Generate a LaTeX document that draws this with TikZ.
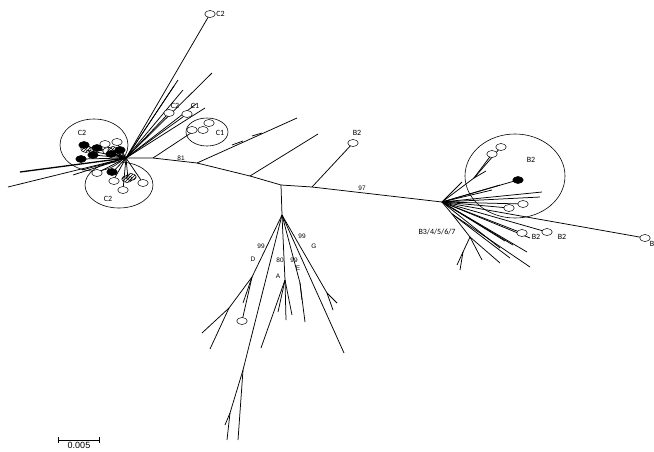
\documentclass[tikz,border=0pt]{standalone}
\usepackage{fontspec}
\setmainfont{Carlito}
\newfontfamily\bootfont{Liberation Sans}
\usetikzlibrary{shapes.geometric, patterns}

\begin{document}
\begin{tikzpicture}[x=1pt, y=-1pt, line width=0.75pt]

  \tikzstyle{leaf} = [
    ellipse, draw, fill=white, line width=0.5pt,
    minimum width=10.5pt, minimum height=7pt, inner sep=0pt
  ]
  \tikzstyle{darkleaf} = [leaf, fill=black]
  \tikzstyle{hatchleaf} = [leaf, fill=none, pattern=north east lines]
  \tikzstyle{clade} = [draw, line width=0.6pt]
  \tikzstyle{tag} = [font=\fontsize{8}{9}\selectfont, inner sep=0.5pt]
  \tikzstyle{boot} = [font=\bootfont\fontsize{6.5}{7}\selectfont, inner sep=0.5pt]

  \useasboundingbox (0,0) rectangle (654,451);

  % backbone
  \coordinate (hub) at (126,158);
  \coordinate (n1) at (153,158);
  \coordinate (n81) at (197,163);
  \coordinate (n2) at (250,176);
  \coordinate (mid) at (281,185);
  \coordinate (n3) at (312,187);
  \coordinate (hubB) at (442,202);
  \draw (hub) -- (n1) -- (n81) -- (n2) -- (mid) -- (n3) -- (hubB);

  \node[boot] (b81) at (181,158) {81};
  \node[boot] (b97) at (362,188) {97};

  % upper fan of the C clades
  \coordinate (lC2top) at (210,14);
  \coordinate (lC2fan) at (169,113);
  \coordinate (lC1fan) at (187,114);
  \coordinate (f1) at (212,73);
  \coordinate (f2) at (178,80);
  \coordinate (f3) at (174,86);
  \coordinate (f4) at (205,108);
  \coordinate (f5) at (183,90);
  \coordinate (f6) at (196,104);
  \foreach \e in {lC2top, lC2fan, lC1fan, f1, f2, f3, f4, f5, f6}
    \draw (hub) -- (\e);
  \draw (n1) -- (197,129);

  % side branches along the backbone
  \coordinate (e81) at (297,118);
  \coordinate (e2) at (318,134);
  \coordinate (lB2mid) at (353,143);
  \draw (n81) -- (e81);
  \draw (232,145) -- (243,141);
  \draw (252,136) -- (262,133);
  \draw (n2) -- (e2);
  \draw (n3) -- (lB2mid);

  % lines to the left
  \coordinate (w1) at (8,187);
  \coordinate (w2) at (20,172);
  \coordinate (w3) at (73,175);
  \coordinate (w4) at (82,170);
  \draw (hub) -- (w1);
  \draw[line width=1.3pt] (hub) -- (w2);
  \draw (hub) -- (w3);
  \draw (hub) -- (w4);

  % upper C2 clade
  \foreach \p in {(83,145), (95,147), (93,155), (82,159), (110,153), (119,150),
                  (105,145), (117,143), (107,151), (113,151), (86,150)}
    \draw (hub) -- \p;
  \draw[clade] (94,145) ellipse [x radius=34, y radius=26];
  \node[tag] (tC2up) at (82,133) {C2};
  \node[leaf] (u1) at (105,144) {};
  \node[leaf] (u2) at (117,142) {};
  \node[hatchleaf] (u3) at (86,149) {};
  \node[darkleaf] (u4) at (84,145) {};
  \node[darkleaf] (u5) at (97,148) {};
  \node[darkleaf] (u6) at (93,155) {};
  \node[darkleaf] (u7) at (81,159) {};
  \node[leaf] (u8) at (108,151) {};
  \node[hatchleaf] (u9) at (113,150) {};
  \node[darkleaf] (u10) at (111,154) {};
  \node[darkleaf] (u11) at (120,150) {};

  % lower C2 clade
  \foreach \p in {(112,173), (97,173), (113,181), (128,179), (143,183), (123,190)}
    \draw (hub) -- \p;
  \draw[clade] (119,185) ellipse [x radius=34, y radius=23];
  \node[tag] (tC2low) at (108,199) {C2};
  \node[darkleaf] (d1) at (112,172) {};
  \node[leaf] (d2) at (97,173) {};
  \node[leaf] (d3) at (114,181) {};
  \node[hatchleaf] (d4) at (127,179) {};
  \node[hatchleaf] (d5) at (131,177) {};
  \node[leaf] (d6) at (143,183) {};
  \node[leaf] (d7) at (123,190) {};

  % C1 clade
  \draw[clade] (207,132) ellipse [x radius=21, y radius=14];
  \node[leaf] (c1a) at (192,130) {};
  \node[leaf] (c1b) at (203,130) {};
  \node[leaf] (c1c) at (209,123) {};
  \node[tag] (tC1in) at (220,133) {C1};

  % leaves of the upper fan
  \node[leaf] (c2top) at (lC2top) {};
  \node[tag, right] (tC2top) at (c2top.east) {C2};
  \node[leaf] (c2fan) at (lC2fan) {};
  \node[tag] (tC2fan) at (175,106) {C2};
  \node[leaf] (c1fan) at (lC1fan) {};
  \node[tag] (tC1fan) at (195,106) {C1};
  \node[leaf] (b2mid) at (lB2mid) {};
  \node[tag] (tB2mid) at (357,133) {B2};

  % B clade
  \coordinate (rA) at (474,178);
  \coordinate (rB) at (452,214);
  \coordinate (rC) at (470,237);
  \coordinate (rD) at (463,252);
  \draw (hubB) -- (462,182);
  \draw (hubB) -- (rA);
  \draw (rA) -- (492,154);
  \draw (rA) -- (501,147);
  \draw (rA) -- (486,171);
  \foreach \e in {(518,180), (542,192), (540,197), (500,185), (492,190),
                  (509,208), (523,204), (645,238), (522,233), (547,232),
                  (530,238), (527,252), (513,245), (505,241), (500,248)}
    \draw (hubB) -- \e;
  \draw (hubB) -- (rB) -- (rC) -- (rD) -- (457,265);
  \draw (rD) -- (460,270);
  \draw (rC) -- (482,260);
  \draw (rC) -- (500,263);
  \draw (rB) -- (510,258);
  \draw (rB) -- (530,267);
  \draw[clade] (515,176) ellipse [x radius=50, y radius=42];
  \node[leaf] (bb1) at (492,154) {};
  \node[leaf] (bb2) at (501,147) {};
  \node[darkleaf] (bb3) at (518,180) {};
  \node[leaf] (bb4) at (509,208) {};
  \node[leaf] (bb5) at (523,204) {};
  \node[leaf] (bb6) at (522,233) {};
  \node[leaf] (bb7) at (547,232) {};
  \node[leaf] (bb8) at (645,238) {};
  \node[tag] (tB2in) at (531,160) {B2};
  \node[tag] (tB2a) at (536,237) {B2};
  \node[tag] (tB2b) at (562,237) {B2};
  \node[tag] (tB) at (652,244) {B};
  \node[tag] (tB37) at (437,232) {B3/4/5/6/7};

  % lower subtree
  \coordinate (stem) at (282,215);
  \coordinate (dA) at (252,277);
  \coordinate (dB) at (229,308);
  \coordinate (lA) at (243,370);
  \coordinate (lB) at (230,413);
  \coordinate (aA) at (285,280);
  \coordinate (eA) at (300,283);
  \coordinate (gA) at (327,293);
  \draw (mid) -- (stem);
  \draw (stem) -- (dA) -- (dB) -- (202,333);
  \draw (dB) -- (210,349);
  \draw (dA) -- (243,303);
  \draw (dA) -- (242,321);
  \draw (stem) -- (lA) -- (lB) -- (227,440);
  \draw (lB) -- (225,425);
  \draw (lA) -- (238,440);
  \draw (stem) -- (aA);
  \draw (aA) -- (278,312);
  \draw (aA) -- (286,320);
  \draw (aA) -- (292,315);
  \draw (aA) -- (261,348);
  \draw (stem) -- (eA);
  \draw (eA) -- (305,322);
  \draw (eA) -- (302,300);
  \draw (stem) -- (344,353);
  \draw (stem) -- (gA);
  \draw (gA) -- (337,303);
  \draw (gA) -- (333,310);
  \node[leaf] (dleaf) at (242,321) {};

  \node[boot] (bD) at (261,246) {99};
  \node[boot] (tD) at (253,259) {D};
  \node[boot] (bA) at (280,260) {80};
  \node[boot] (bE) at (294,260) {99};
  \node[boot] (tA) at (278,276) {A};
  \node[boot] (tE) at (298,268) {E};
  \node[boot] (bG) at (302,236) {99};
  \node[boot] (tG) at (314,246) {G};

  % scale bar
  \coordinate (sL) at (58,440);
  \coordinate (sR) at (100,440);
  \draw[line width=0.6pt, |-|] (sL) -- (sR);
  \node[anchor=north, inner sep=0pt, font=\bootfont\fontsize{9}{10}\selectfont]
    (tScale) at (79,442) {0.005};

\end{tikzpicture}
\end{document}
